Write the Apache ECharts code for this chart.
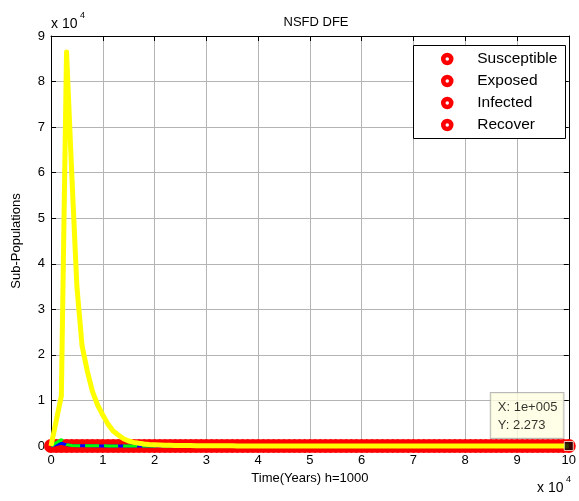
<!DOCTYPE html>
<html><head><meta charset="utf-8">
<script src="https://cdn.jsdelivr.net/npm/echarts@6/dist/echarts.min.js"></script>
<style>html,body{margin:0;padding:0;background:#fff}#c{width:579px;height:501px}</style>
</head><body><div id="c"></div>
<script>
const stepH = 1000;
const chartTitle = 'NSFD DFE';
const xName = 'Time(Years) h=1000';
const yName = 'Sub-Populations';
const seriesNames = ['Susceptible', 'Exposed', 'Infected', 'Recover'];
const xTickLabels = ['0','1','2','3','4','5','6','7','8','9','10'];
const yTickLabels = ['0','1','2','3','4','5','6','7','8','9'];
const times = [];
for (let i = 0; i <= 100; i++) times.push(i * stepH);

const susceptible = [0, 12, 9, 7, 6, 5.4, 5, 4.7, 4.4, 4.2,
 4.0, 3.9, 3.8, 3.7, 3.6, 3.5, 3.45, 3.4, 3.35, 3.3,
 3.25, 3.2, 3.15, 3.1, 3.06, 3.02, 2.98, 2.95, 2.92, 2.89,
 2.86, 2.83, 2.8, 2.78, 2.76, 2.74, 2.72, 2.7, 2.68, 2.66,
 2.64, 2.62, 2.6, 2.58, 2.57, 2.56, 2.55, 2.54, 2.53, 2.52,
 2.51, 2.5, 2.49, 2.48, 2.47, 2.46, 2.45, 2.44, 2.43, 2.42,
 2.41, 2.4, 2.39, 2.38, 2.37, 2.36, 2.35, 2.345, 2.34, 2.335,
 2.33, 2.325, 2.32, 2.315, 2.31, 2.306, 2.302, 2.298, 2.295, 2.292,
 2.29, 2.288, 2.286, 2.284, 2.282, 2.281, 2.28, 2.279, 2.278, 2.277,
 2.277, 2.276, 2.276, 2.275, 2.275, 2.274, 2.274, 2.274, 2.273, 2.273, 2.273];

const exposed = [0, 300, 600, 250, 100, 60, 45, 36, 30, 26,
 23, 20.5, 18.5, 16.8, 15.3, 14, 12.9, 11.9, 11, 10.2,
 9.5, 8.9, 8.3, 7.8, 7.3, 6.9, 6.5, 6.2, 5.9, 5.6,
 5.3, 5.1, 4.9, 4.7, 4.5, 4.3, 4.15, 4.0, 3.85, 3.72,
 3.6, 3.48, 3.37, 3.27, 3.18, 3.09, 3.0, 2.92, 2.85, 2.78,
 2.71, 2.65, 2.59, 2.53, 2.48, 2.43, 2.38, 2.34, 2.3, 2.26,
 2.22, 2.18, 2.15, 2.12, 2.09, 2.06, 2.03, 2.0, 1.98, 1.96,
 1.94, 1.92, 1.9, 1.88, 1.86, 1.84, 1.82, 1.8, 1.79, 1.78,
 1.77, 1.76, 1.75, 1.74, 1.73, 1.72, 1.71, 1.7, 1.69, 1.68,
 1.67, 1.66, 1.65, 1.64, 1.63, 1.62, 1.61, 1.6, 1.6, 1.59, 1.59];

const infected = [0, 700, 1400, 300, 130, 75, 55, 45, 38, 33,
 29, 26, 23, 21, 19, 17, 15.5, 14, 13, 12,
 11, 10.2, 9.5, 8.9, 8.3, 7.8, 7.3, 6.9, 6.5, 6.2,
 5.9, 5.6, 5.3, 5.1, 4.9, 4.7, 4.5, 4.3, 4.15, 4.0,
 3.85, 3.72, 3.6, 3.48, 3.37, 3.27, 3.18, 3.09, 3.0, 2.92,
 2.85, 2.78, 2.71, 2.65, 2.59, 2.53, 2.48, 2.43, 2.38, 2.34,
 2.3, 2.26, 2.22, 2.18, 2.15, 2.12, 2.09, 2.06, 2.03, 2.0,
 1.98, 1.96, 1.94, 1.92, 1.9, 1.88, 1.86, 1.84, 1.82, 1.8,
 1.79, 1.78, 1.77, 1.76, 1.75, 1.74, 1.73, 1.72, 1.71, 1.7,
 1.69, 1.68, 1.67, 1.66, 1.65, 1.64, 1.63, 1.62, 1.61, 1.6, 1.6];

const recover = [0, 5500, 11000, 86500, 60000, 35000, 22000, 16500, 12000, 9000,
 6800, 4800, 3300, 2400, 1600, 1100, 800, 600, 450, 350,
 280, 230, 190, 160, 135, 115, 98, 84, 72, 62,
 54, 47, 41, 36, 32, 28, 25, 22.5, 20, 18,
 16.5, 15, 13.8, 12.7, 11.7, 10.8, 10, 9.3, 8.7, 8.1,
 7.6, 7.1, 6.7, 6.3, 6.0, 5.7, 5.4, 5.1, 4.9, 4.7,
 4.5, 4.3, 4.15, 4.0, 3.85, 3.72, 3.6, 3.5, 3.4, 3.3,
 3.22, 3.14, 3.07, 3.0, 2.94, 2.88, 2.83, 2.78, 2.74, 2.7,
 2.66, 2.62, 2.59, 2.56, 2.53, 2.5, 2.48, 2.46, 2.44, 2.42,
 2.4, 2.38, 2.36, 2.34, 2.33, 2.32, 2.31, 2.3, 2.29, 2.28, 2.273];

const tipX = 100000;
const tipY = 2.273;
const tipText = 'X: 1e+005\nY: 2.273';

const FONT = 'Liberation Sans, Arial, sans-serif';
const pairs = arr => times.map((t, i) => [t, arr[i]]);

const chart = echarts.init(document.getElementById('c'), null, {renderer: 'canvas'});

const baseX = {
  type: 'value', min: 0, max: 100000, interval: 10000,
  axisLine: {show: true, onZero: false, lineStyle: {color: '#000', width: 1}},
  axisTick: {show: true, inside: true, length: 5, lineStyle: {color: '#000'}},
};
const baseY = {
  type: 'value', min: 0, max: 90000, interval: 10000,
  axisLine: {show: true, onZero: false, lineStyle: {color: '#000', width: 1}},
  axisTick: {show: true, inside: true, length: 5, lineStyle: {color: '#000'}},
};

chart.setOption({
  animation: false,
  backgroundColor: '#fff',
  title: {
    text: chartTitle, left: 311, top: 11, textAlign: 'center',
    textStyle: {fontFamily: FONT, fontSize: 13, fontWeight: 'normal', color: '#000'}
  },
  grid: {left: 51, right: 8, top: 36, bottom: 55},
  xAxis: [
    Object.assign({}, baseX, {
      position: 'bottom',
      axisLabel: {margin: 8, color: '#000', fontFamily: FONT, fontSize: 13,
        formatter: v => xTickLabels[Math.round(v / 10000)]},
      splitLine: {show: true, lineStyle: {color: '#b4b4b4', width: 1}},
      name: xName, nameLocation: 'middle', nameGap: 26,
      nameTextStyle: {color: '#000', fontFamily: FONT, fontSize: 13}
    }),
    Object.assign({}, baseX, {
      position: 'top', axisLabel: {show: false}, splitLine: {show: false}
    })
  ],
  yAxis: [
    Object.assign({}, baseY, {
      position: 'left',
      axisLabel: {margin: 6, color: '#000', fontFamily: FONT, fontSize: 13,
        formatter: v => yTickLabels[Math.round(v / 10000)]},
      splitLine: {show: true, lineStyle: {color: '#b4b4b4', width: 1}},
      name: yName, nameLocation: 'middle', nameGap: 28, nameRotate: 90,
      nameTextStyle: {color: '#000', fontFamily: FONT, fontSize: 13}
    }),
    Object.assign({}, baseY, {
      position: 'right', axisLabel: {show: false}, splitLine: {show: false}
    })
  ],
  legend: {
    orient: 'vertical', left: 441, top: 51, padding: 0,
    itemWidth: 8, itemHeight: 8, itemGap: 6,
    textStyle: {fontFamily: FONT, fontSize: 15.5, color: '#000', padding: [0, 0, 0, 21], lineHeight: 14},
    data: seriesNames.map(n => ({
      name: n, icon: 'circle',
      itemStyle: {color: '#fff', borderColor: '#ff0000', borderWidth: 4.5}
    })),
    z: 10
  },
  graphic: [
    {type: 'rect', left: 413, top: 45, z: 8,
      shape: {width: 152, height: 93},
      style: {fill: '#fff', stroke: '#000', lineWidth: 1}},
    {type: 'text', left: 51, top: 17, z: 8,
      style: {text: 'x 10', fontFamily: FONT, fontSize: 14, fill: '#000'}},
    {type: 'text', left: 80, top: 11, z: 8,
      style: {text: '4', fontFamily: FONT, fontSize: 9, fill: '#000'}},
    {type: 'text', left: 537, top: 481, z: 8,
      style: {text: 'x 10', fontFamily: FONT, fontSize: 14, fill: '#000'}},
    {type: 'text', left: 566, top: 475, z: 8,
      style: {text: '4', fontFamily: FONT, fontSize: 9, fill: '#000'}}
  ],
  series: [
    {
      name: seriesNames[0], type: 'line', data: pairs(susceptible), clip: false,
      symbol: 'circle', symbolSize: 14, showSymbol: true, showAllSymbol: true,
      itemStyle: {color: '#ff0000', borderWidth: 0},
      lineStyle: {width: 0, opacity: 0}, z: 2
    },
    {
      name: seriesNames[1], type: 'line', data: pairs(exposed), clip: false,
      showSymbol: false, lineStyle: {color: '#0000ff', width: 3}, itemStyle: {color: '#0000ff'}, z: 3
    },
    {
      name: seriesNames[2], type: 'line', data: pairs(infected), clip: false,
      showSymbol: false, lineStyle: {color: '#00ff00', width: 3, type: [14, 5]}, itemStyle: {color: '#00ff00'}, z: 4
    },
    {
      name: seriesNames[3], type: 'line', data: pairs(recover), clip: false,
      showSymbol: false, lineStyle: {color: '#ffff00', width: 5, join: 'round'}, itemStyle: {color: '#ffff00'}, z: 5
    },
    {
      name: 'datatip', type: 'scatter', data: [[tipX, tipY]], clip: false, silent: true,
      symbol: 'rect', symbolSize: 9,
      itemStyle: {color: '#000', borderColor: '#fff8e0', borderWidth: 1},
      label: {
        show: true, position: [-73, -48], formatter: tipText,
        fontFamily: FONT, fontSize: 13, color: '#000', lineHeight: 18, align: 'left', verticalAlign: 'top',
        backgroundColor: '#ffffe1', borderColor: '#a8a8a8', borderWidth: 1, padding: [5, 6, 4, 7]
      },
      z: 6
    }
  ]
});
</script>
</body></html>
